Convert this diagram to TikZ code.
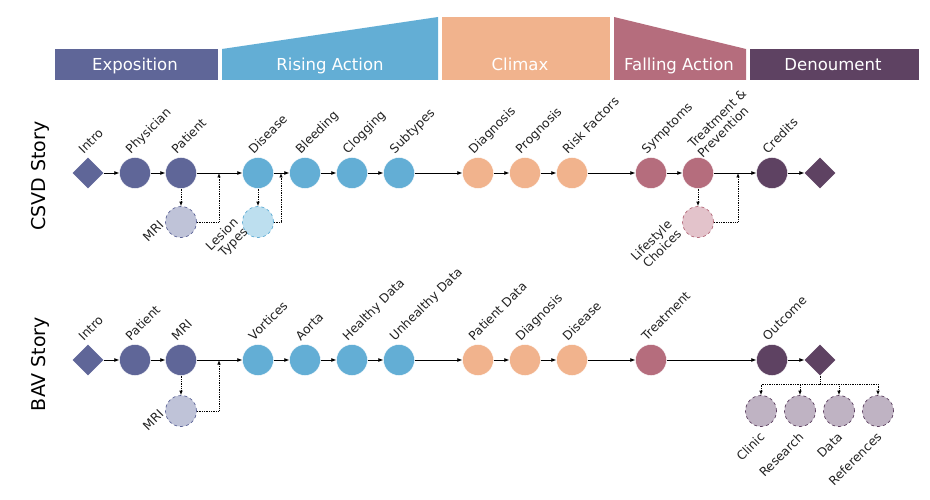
\documentclass[tikz,border=0pt]{standalone}
\usepackage{fontspec}
\setmainfont{DejaVu Sans}
\usetikzlibrary{shapes.geometric,arrows.meta}
\definecolor{cexp}{HTML}{5F6698}
\definecolor{crise}{HTML}{63AED5}
\definecolor{cclim}{HTML}{F1B38D}
\definecolor{cfall}{HTML}{B56D7D}
\definecolor{cden}{HTML}{5E4262}
\definecolor{lexp}{HTML}{BFC3D8}
\definecolor{lrise}{HTML}{BDDFEF}
\definecolor{lfall}{HTML}{E3C3CB}
\definecolor{lden}{HTML}{BFB3C3}
\definecolor{txt}{HTML}{222222}
\begin{document}
\begin{tikzpicture}[x=1pt,y=-1pt,
  dot/.style={circle, minimum size=31pt, inner sep=0pt, fill=#1, draw=white, line width=0.4pt},
  dia/.style={diamond, minimum width=31pt, minimum height=31pt, inner sep=0pt, fill=#1},
  sub/.style={circle, minimum size=31pt, inner sep=0pt, dashed, line width=0.7pt},
  tl/.style={rotate=45, anchor=base west, inner sep=1pt, text=txt, font=\fontsize{12.3}{14}\selectfont},
  tl2/.style={rotate=45, anchor=south west, inner sep=1pt, align=left, text=txt, font=\fontsize{12.3}{13.5}\selectfont},
  bl/.style={rotate=45, anchor=east, inner sep=1pt, align=right, text=txt, font=\fontsize{12.3}{13.5}\selectfont},
  hd/.style={anchor=base, text=white, font=\fontsize{16.5}{18}\selectfont},
  rowlab/.style={rotate=90, text=black, font=\fontsize{19}{22}\selectfont},
  flow/.style={-{Latex[length=5pt,width=4pt]}, line width=0.75pt},
  dflow/.style={densely dotted, -{Latex[length=4.5pt,width=3.5pt]}, line width=0.75pt},
  dline/.style={densely dotted, line width=0.75pt}
]
\useasboundingbox (0,0) rectangle (930,500);

% ---- header bars ----
\fill[cexp] (55,49) rectangle (218,80);
\fill[crise] (222,80) -- (222,49) -- (438,17) -- (438,80) -- cycle;
\fill[cclim] (442,17) rectangle (610,80);
\fill[cfall] (614,80) -- (614,17) -- (746,49) -- (746,80) -- cycle;
\fill[cden] (750,49) rectangle (919,80);
\node[hd] (h1) at (135,71) {Exposition};
\node[hd] (h2) at (330,71) {Rising Action};
\node[hd] (h3) at (520,71) {Climax};
\node[hd] (h4) at (679,71) {Falling Action};
\node[hd] (h5) at (833,71) {Denoument};

% ---- row labels ----
\node[rowlab] (r1lab) at (40,176) {CSVD Story};
\node[rowlab] (r2lab) at (40,364) {BAV Story};

% ---- CSVD row ----
\node[dia=cexp] (c0) at (88,173) {};
\node[dot=cexp] (c1) at (135,173) {};
\node[dot=cexp] (c2) at (181,173) {};
\node[dot=crise] (c3) at (258,173) {};
\node[dot=crise] (c4) at (305,173) {};
\node[dot=crise] (c5) at (352,173) {};
\node[dot=crise] (c6) at (399,173) {};
\node[dot=cclim] (c7) at (478,173) {};
\node[dot=cclim] (c8) at (525,173) {};
\node[dot=cclim] (c9) at (572,173) {};
\node[dot=cfall] (c10) at (651,173) {};
\node[dot=cfall] (c11) at (698,173) {};
\node[dot=cden] (c12) at (772,173) {};
\node[dia=cden] (c13) at (820,173) {};

\node[tl] (lc0) at (83,155) {Intro};
\node[tl] (lc1) at (130,155) {Physician};
\node[tl] (lc2) at (176,155) {Patient};
\node[tl] (lc3) at (253,155) {Disease};
\node[tl] (lc4) at (300,155) {Bleeding};
\node[tl] (lc5) at (347,155) {Clogging};
\node[tl] (lc6) at (394,155) {Subtypes};
\node[tl] (lc7) at (473,155) {Diagnosis};
\node[tl] (lc8) at (520,155) {Prognosis};
\node[tl] (lc9) at (567,155) {Risk Factors};
\node[tl] (lc10) at (646,155) {Symptoms};
\node[tl2] (lc11) at (703,160) {Treatment \&\\Prevention};
\node[tl] (lc12) at (767,155) {Credits};

\foreach \a/\b in {c0/c1,c1/c2,c2/c3,c3/c4,c4/c5,c5/c6,c6/c7,c7/c8,c8/c9,c9/c10,c10/c11,c11/c12,c12/c13}
  \draw[flow] (\a) -- (\b);

% sub nodes CSVD
\node[sub, fill=lexp, draw=cexp] (m1) at (181,222) {};
\node[sub, fill=lrise, draw=crise] (m2) at (258,222) {};
\node[sub, fill=lfall, draw=cfall] (m3) at (698,222) {};
\node[bl] (lm1) at (162,222) {MRI};
\node[bl] (lm2) at (242,225) {Lesion\\Types};
\node[bl] (lm3) at (675,226) {Lifestyle\\Choices};

\coordinate (j1) at (219,173);
\coordinate (j2) at (281,173);
\coordinate (j3) at (738,173);
\draw[dflow] (c2) -- (m1);
\draw[dflow] (m1.east) -| (j1);
\draw[dflow] (c3) -- (m2);
\draw[dflow] (m2.east) -| (j2);
\draw[dflow] (c11) -- (m3);
\draw[dflow] (m3.east) -| (j3);

% ---- BAV row ----
\node[dia=cexp] (b0) at (88,360) {};
\node[dot=cexp] (b1) at (135,360) {};
\node[dot=cexp] (b2) at (181,360) {};
\node[dot=crise] (b3) at (258,360) {};
\node[dot=crise] (b4) at (305,360) {};
\node[dot=crise] (b5) at (352,360) {};
\node[dot=crise] (b6) at (399,360) {};
\node[dot=cclim] (b7) at (478,360) {};
\node[dot=cclim] (b8) at (525,360) {};
\node[dot=cclim] (b9) at (572,360) {};
\node[dot=cfall] (b10) at (651,360) {};
\node[dot=cden] (b12) at (772,360) {};
\node[dia=cden] (b13) at (820,360) {};

\node[tl] (lb0) at (83,342) {Intro};
\node[tl] (lb1) at (130,342) {Patient};
\node[tl] (lb2) at (176,342) {MRI};
\node[tl] (lb3) at (253,342) {Vortices};
\node[tl] (lb4) at (300,342) {Aorta};
\node[tl] (lb5) at (347,342) {Healthy Data};
\node[tl] (lb6) at (394,342) {Unhealthy Data};
\node[tl] (lb7) at (473,342) {Patient Data};
\node[tl] (lb8) at (520,342) {Diagnosis};
\node[tl] (lb9) at (567,342) {Disease};
\node[tl] (lb10) at (646,342) {Treatment};
\node[tl] (lb12) at (767,342) {Outcome};

\foreach \a/\b in {b0/b1,b1/b2,b2/b3,b3/b4,b4/b5,b5/b6,b6/b7,b7/b8,b8/b9,b9/b10,b10/b12,b12/b13}
  \draw[flow] (\a) -- (\b);

\node[sub, fill=lexp, draw=cexp] (n1) at (181,411) {};
\node[bl] (ln1) at (162,411) {MRI};
\coordinate (k1) at (219,360);
\draw[dflow] (b2) -- (n1);
\draw[dflow] (n1.east) -| (k1);

% ---- denouement fan ----
\node[sub, fill=lden, draw=cden] (e1) at (761,411) {};
\node[sub, fill=lden, draw=cden] (e2) at (800,411) {};
\node[sub, fill=lden, draw=cden] (e3) at (839,411) {};
\node[sub, fill=lden, draw=cden] (e4) at (878,411) {};
\node[bl] (le1) at (763,434) {Clinic};
\node[bl] (le2) at (802,434) {Research};
\node[bl] (le3) at (841,434) {Data};
\node[bl] (le4) at (880,434) {References};
\coordinate (fan) at (820,384);
\draw[dline] (b13.south) -- (fan);
\foreach \e in {e1,e2,e3,e4}
  \draw[dflow] (fan) -| (\e.north);
\end{tikzpicture}
\end{document}
